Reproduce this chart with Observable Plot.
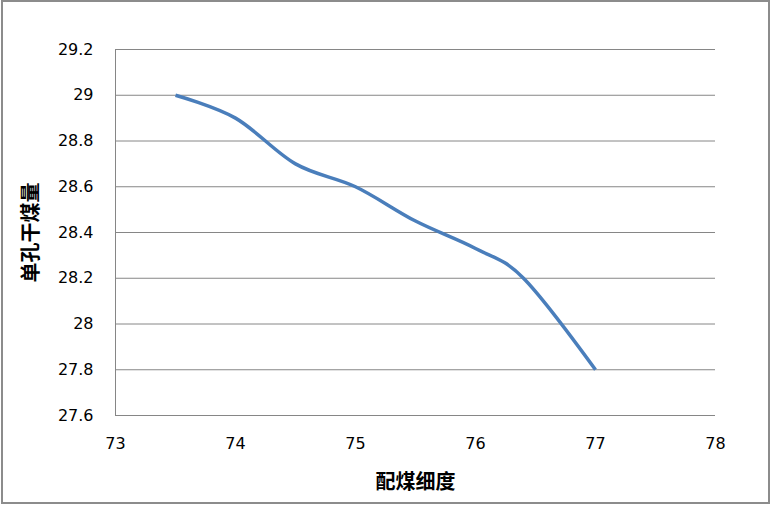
<!DOCTYPE html>
<html>
<head>
<meta charset="utf-8">
<script src="https://cdn.jsdelivr.net/npm/d3@7"></script>
<script src="https://cdn.jsdelivr.net/npm/@observablehq/plot@0.6"></script>
<style>
  html, body { margin: 0; padding: 0; background: #fff; }
  #wrap { position: relative; width: 770px; height: 506px; overflow: hidden; }
  #wrap svg { position: absolute; left: 0; top: 0; }
  #border { position: absolute; left: 1px; top: 0; width: 769px; height: 504px; border: 2px solid #8c8c8c; box-sizing: border-box; pointer-events: none; }
</style>
</head>
<body>
<div id="wrap"><div id="border"></div></div>
<script>
// Data
const fineness = [73.5, 74, 74.5, 75, 75.5, 76, 76.4, 77];
const coalPerHole = [29.0, 28.9, 28.7, 28.6, 28.45, 28.33, 28.2, 27.8];
const xTicks = [73, 74, 75, 76, 77, 78];
const yTicks = [27.6, 27.8, 28, 28.2, 28.4, 28.6, 28.8, 29, 29.2];
const xTitle = "配煤细度";
const yTitle = "单孔干煤量";

const data = fineness.map((x, i) => ({x, y: coalPerHole[i]}));

const chart = Plot.plot({
  width: 770,
  height: 506,
  marginLeft: 115,
  marginRight: 55,
  marginTop: 49,
  marginBottom: 91,
  x: {domain: [73, 78]},
  y: {domain: [27.6, 29.2]},
  style: {fontFamily: "'DejaVu Sans', Verdana, sans-serif", fontSize: "16px", background: "transparent", color: "#000", overflow: "visible"},
  marks: [
    Plot.gridY(yTicks, {stroke: "#868686", strokeOpacity: 1, strokeWidth: 1}),
    Plot.ruleX([73], {stroke: "#868686", strokeWidth: 1}),
    Plot.axisY(yTicks, {tickSize: 0, tickPadding: 22, label: null, tickFormat: d => String(d), fill: "#000"}),
    Plot.axisX(xTicks, {tickSize: 0, tickPadding: 22, label: null, tickFormat: d => String(d), fill: "#000"}),
    Plot.line(data, {x: "x", y: "y", curve: "cardinal", tension: 0, stroke: "#4A7EBB", strokeWidth: 3.5, strokeLinecap: "butt"}),
    Plot.text([yTitle], {frameAnchor: "left", dx: -84, rotate: -90, textAnchor: "middle", fontSize: 20, fontWeight: "bold", fontFamily: "'Noto Sans CJK SC', sans-serif", fill: "#000"}),
    Plot.text([xTitle], {frameAnchor: "bottom", dy: 73, textAnchor: "middle", fontSize: 20, fontWeight: "bold", fontFamily: "'Noto Sans CJK SC', sans-serif", fill: "#000"})
  ]
});
document.getElementById("wrap").insertBefore(chart, document.getElementById("border"));
</script>
</body>
</html>
